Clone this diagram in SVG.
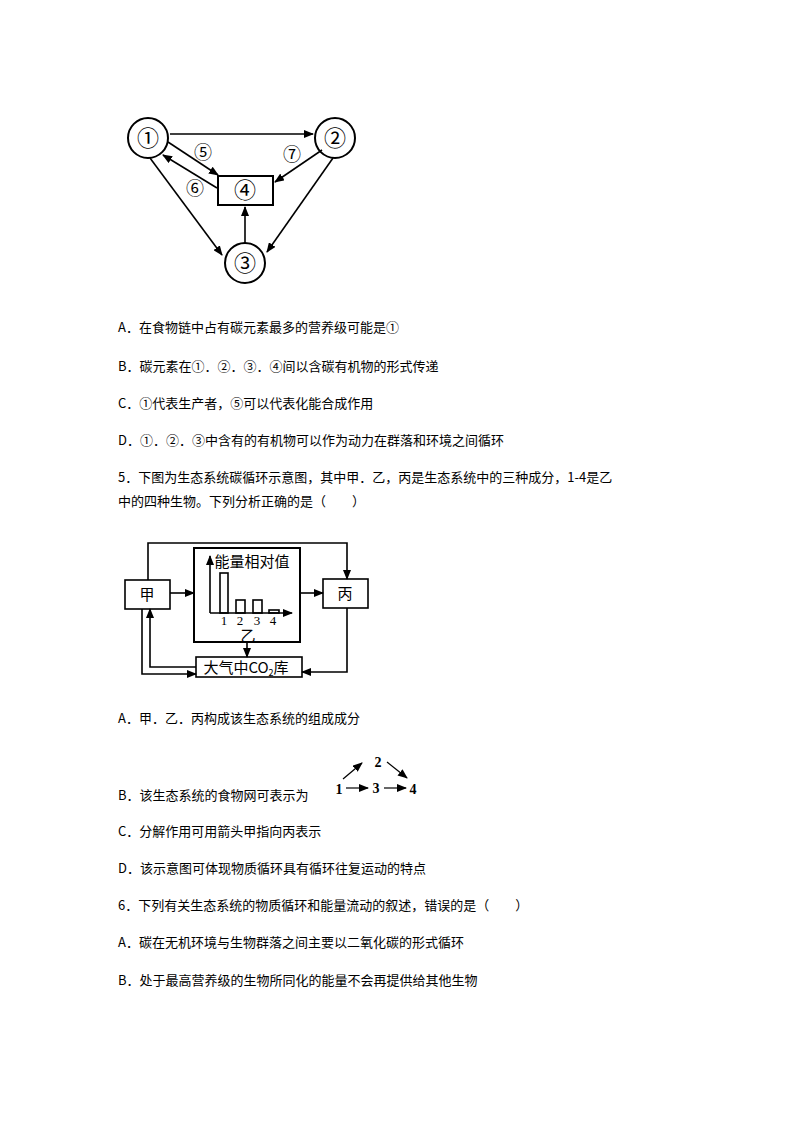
<svg xmlns="http://www.w3.org/2000/svg" width="794" height="1123" viewBox="0 0 794 1123">
<style>
.t{font-family:"Noto Sans CJK SC","Liberation Sans",sans-serif;font-size:13px;fill:#000}
.c{font-family:"Liberation Serif","Noto Sans CJK SC",serif;font-size:22px;text-anchor:middle;fill:#000}
.s{font-family:"Liberation Serif","Noto Sans CJK SC",serif;font-size:18px;text-anchor:middle;fill:#000}
.n{font-family:"Noto Sans CJK SC",sans-serif;font-size:15px;text-anchor:middle;fill:#000}
.sh{fill:none;stroke:#000;stroke-width:2}
.ln{fill:none;stroke:#000;stroke-width:1.6}
.fw{font-family:"Liberation Serif",serif;font-size:14px;font-weight:bold;text-anchor:middle}
</style>
<defs>
<marker id="a" markerWidth="10" markerHeight="8" refX="9" refY="4" orient="auto" markerUnits="userSpaceOnUse"><path d="M0,0L10,4L0,8z" fill="#000"/></marker>
</defs>
<rect width="794" height="1123" fill="#fff"/>
<g id="n1"><circle cx="148" cy="138" r="20" class="sh"/><text x="148" y="146" class="c">①</text></g>
<g id="n2"><circle cx="335" cy="138" r="20" class="sh"/><text x="335" y="146" class="c">②</text></g>
<g id="n3"><circle cx="245" cy="263" r="20" class="sh"/><text x="245" y="271" class="c">③</text></g>
<g id="n4"><rect x="218" y="176" width="55" height="29" class="sh"/><text x="245" y="198" class="c">④</text></g>
<g id="lbl1"><text x="203" y="159" class="s">⑤</text><text x="292" y="161" class="s">⑦</text><text x="195" y="195" class="s">⑥</text></g>
<g id="conn1" class="ln" marker-end="url(#a)">
<line x1="170" y1="134" x2="313" y2="134"/>
<line x1="168" y1="142" x2="218" y2="175"/>
<line x1="217" y1="188" x2="163" y2="155"/>
<line x1="322" y1="150" x2="275" y2="182"/>
<line x1="150" y1="158" x2="222" y2="255"/>
<line x1="333" y1="158" x2="267" y2="252"/>
<line x1="245" y1="243" x2="245" y2="207"/>
</g>
<g id="text1">
<text x="118" y="332" class="t">A．在食物链中占有碳元素最多的营养级可能是①</text>
<text x="118" y="371" class="t">B．碳元素在①．②．③．④间以含碳有机物的形式传递</text>
<text x="118" y="408" class="t">C．①代表生产者，⑤可以代表化能合成作用</text>
<text x="118" y="445" class="t">D．①．②．③中含有的有机物可以作为动力在群落和环境之间循环</text>
<text x="118" y="482" class="t">5．下图为生态系统碳循环示意图，其中甲．乙，丙是生态系统中的三种成分，1-4是乙</text>
<text x="118" y="506" class="t">中的四种生物。下列分析正确的是（　　）</text>
</g>
<g id="jia"><rect x="125" y="580" width="45" height="29" class="ln"/><text x="147" y="600" class="n">甲</text></g>
<g id="yi"><rect x="194" y="548" width="106" height="94" class="sh"/>
<text x="252" y="567" class="n">能量相对值</text>
<g class="ln"><line x1="210" y1="613" x2="210" y2="556" marker-end="url(#a)"/><line x1="210" y1="613" x2="292" y2="613" marker-end="url(#a)"/>
<rect x="220" y="573" width="8" height="40"/><rect x="236" y="600" width="9" height="13"/><rect x="253" y="600" width="9" height="13"/><rect x="269" y="610" width="10" height="3"/></g>
<g style="font-family:'Liberation Serif',serif;font-size:13px;text-anchor:middle"><text x="224" y="625">1</text><text x="240" y="625">2</text><text x="257" y="625">3</text><text x="273" y="625">4</text></g>
<text x="248" y="641" class="n" font-size="12">乙</text></g>
<g id="bing"><rect x="323" y="579" width="45" height="29" class="ln"/><text x="345" y="599" class="n">丙</text></g>
<g id="co2"><rect x="196" y="657" width="106" height="20" class="ln"/><text x="246" y="673" class="n">大气中CO<tspan font-size="9" dy="3">2</tspan><tspan dy="-3">库</tspan></text></g>
<g id="conn2" class="ln" marker-end="url(#a)">
<polyline points="148,580 148,543 347,543 347,579"/>
<line x1="170" y1="593" x2="194" y2="593"/>
<line x1="300" y1="593" x2="323" y2="593"/>
<line x1="247" y1="642" x2="247" y2="657"/>
<polyline points="196,667 150,667 150,609"/>
<polyline points="142,609 142,674 196,674"/>
<polyline points="347,608 347,672 302,672"/>
</g>
<g id="text2">
<text x="118" y="723" class="t">A．甲．乙．丙构成该生态系统的组成成分</text>
<text x="118" y="800" class="t">B．该生态系统的食物网可表示为</text>
<text x="118" y="836" class="t">C．分解作用可用箭头甲指向丙表示</text>
<text x="118" y="873" class="t">D．该示意图可体现物质循环具有循环往复运动的特点</text>
<text x="118" y="910" class="t">6．下列有关生态系统的物质循环和能量流动的叙述，错误的是（　　）</text>
<text x="118" y="947" class="t">A．碳在无机环境与生物群落之间主要以二氧化碳的形式循环</text>
<text x="118" y="985" class="t">B．处于最高营养级的生物所同化的能量不会再提供给其他生物</text>
</g>
<g id="fw"><text x="339" y="794" class="fw">1</text><text x="378" y="767" class="fw">2</text><text x="376" y="793" class="fw">3</text><text x="413" y="794" class="fw">4</text></g>
<g id="conn3" stroke="#000" stroke-width="1.2" marker-end="url(#a)">
<line x1="343" y1="779" x2="362" y2="763"/>
<line x1="387" y1="762" x2="407" y2="778"/>
<line x1="346" y1="788" x2="368" y2="788"/>
<line x1="384" y1="788" x2="406" y2="788"/>
</g>
</svg>
